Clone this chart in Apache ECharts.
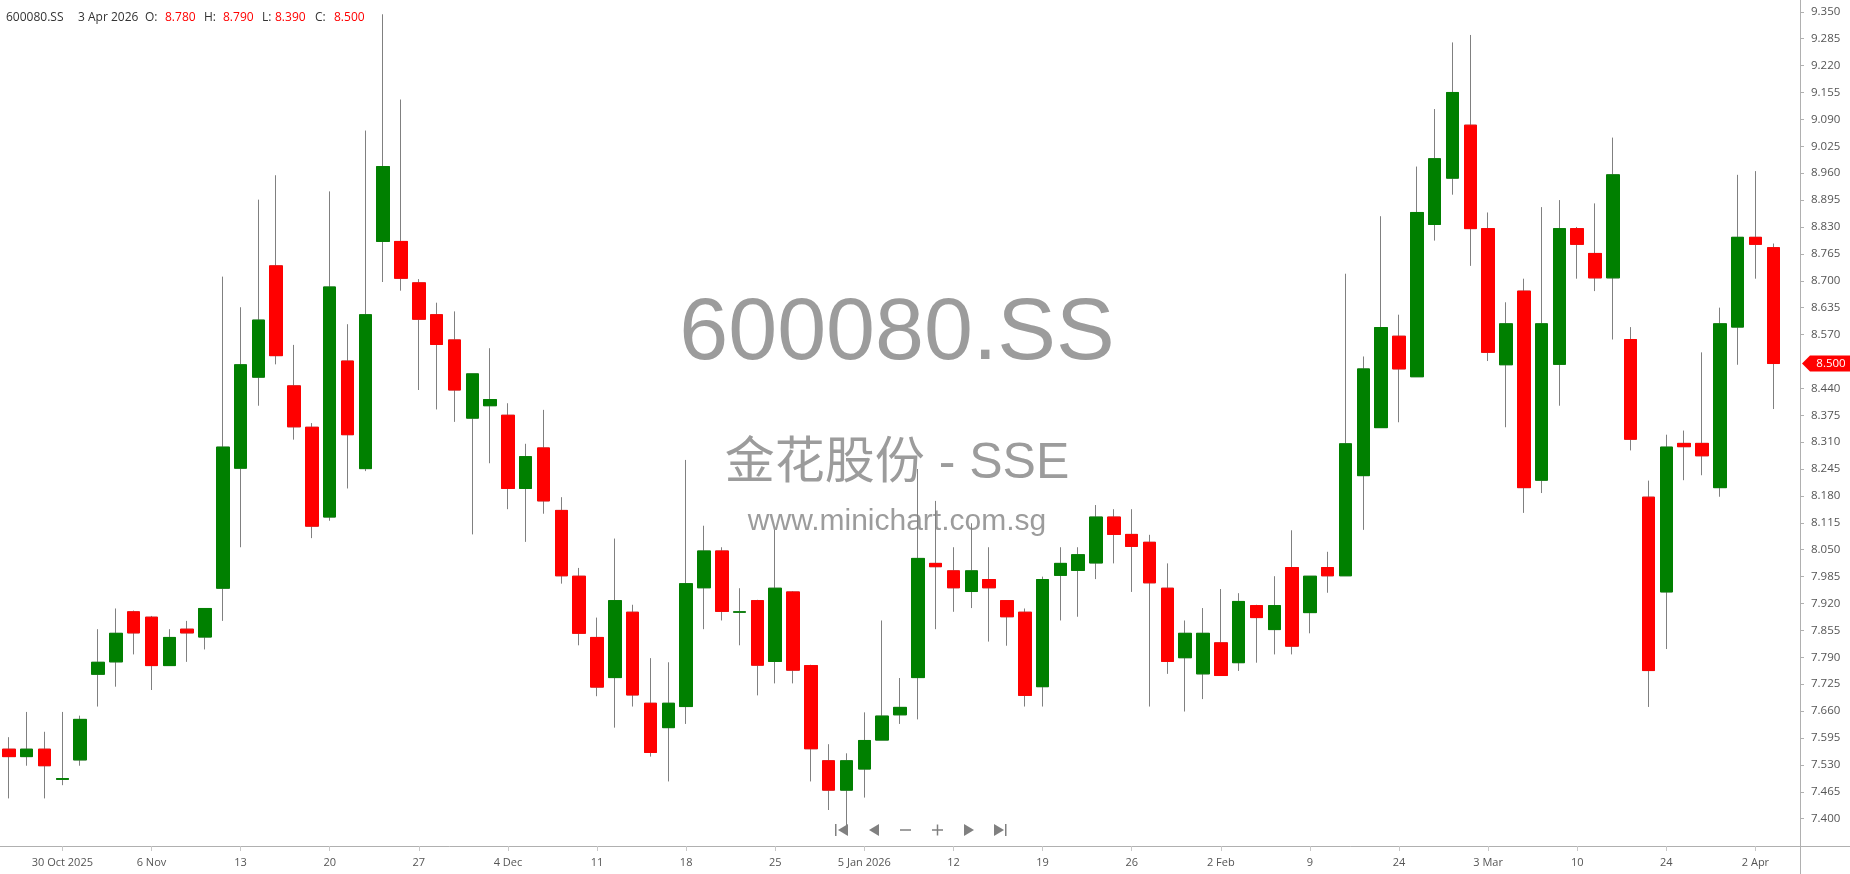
<!DOCTYPE html>
<html><head><meta charset="utf-8">
<script src="https://cdn.jsdelivr.net/npm/echarts@6/dist/echarts.min.js"></script>
<style>html,body{margin:0;padding:0;background:#fff;overflow:hidden}#c{width:1850px;height:874px}</style>
</head><body><div id="c"></div><script>
const SYMBOL = '600080.SS';
const NAME_LINE = '金花股份 - SSE';
const SITE = 'www.minichart.com.sg';
const LAST_DATE_TEXT = '3 Apr 2026';

const DATES = [
 '2025-10-27','2025-10-28','2025-10-29','2025-10-30','2025-10-31',
 '2025-11-03','2025-11-04','2025-11-05','2025-11-06','2025-11-07',
 '2025-11-10','2025-11-11','2025-11-12','2025-11-13','2025-11-14',
 '2025-11-17','2025-11-18','2025-11-19','2025-11-20','2025-11-21',
 '2025-11-24','2025-11-25','2025-11-26','2025-11-27','2025-11-28',
 '2025-12-01','2025-12-02','2025-12-03','2025-12-04','2025-12-05',
 '2025-12-08','2025-12-09','2025-12-10','2025-12-11','2025-12-12',
 '2025-12-15','2025-12-16','2025-12-17','2025-12-18','2025-12-19',
 '2025-12-22','2025-12-23','2025-12-24','2025-12-25','2025-12-26',
 '2025-12-29','2025-12-30','2025-12-31','2026-01-05','2026-01-06',
 '2026-01-07','2026-01-08','2026-01-09','2026-01-12','2026-01-13',
 '2026-01-14','2026-01-15','2026-01-16','2026-01-19','2026-01-20',
 '2026-01-21','2026-01-22','2026-01-23','2026-01-26','2026-01-27',
 '2026-01-28','2026-01-29','2026-01-30','2026-02-02','2026-02-03',
 '2026-02-04','2026-02-05','2026-02-06','2026-02-09','2026-02-10',
 '2026-02-11','2026-02-12','2026-02-13','2026-02-24','2026-02-25',
 '2026-02-26','2026-02-27','2026-03-02','2026-03-03','2026-03-04',
 '2026-03-05','2026-03-06','2026-03-09','2026-03-10','2026-03-11',
 '2026-03-12','2026-03-13','2026-03-23','2026-03-24','2026-03-25',
 '2026-03-26','2026-03-27','2026-03-31','2026-04-02','2026-04-03'
];

const OPEN = [
 7.568,7.550,7.568,7.495,7.542, 7.749,7.779,7.900,7.887,7.770,
 7.858,7.839,7.957,8.247,8.467, 8.736,8.446,8.346,8.129,8.506,
 8.246,8.795,8.795,8.695,8.618, 8.557,8.368,8.398,8.375,8.198,
 8.296,8.145,7.986,7.838,7.741, 7.899,7.679,7.620,7.671,7.958,
 8.047,7.899,7.927,7.780,7.948, 7.770,7.540,7.469,7.520,7.590,
 7.651,7.741,8.017,7.999,7.949, 7.978,7.927,7.899,7.719,7.988,
 8.000,8.018,8.129,8.087,8.068, 7.957,7.789,7.750,7.825,7.777,
 7.915,7.857,8.007,7.898,8.007, 7.987,8.229,8.345,8.566,8.468,
 8.836,8.948,9.076,8.826,8.497, 8.675,8.218,8.498,8.826,8.766,
 8.707,8.558,8.177,7.948,8.307, 8.307,8.200,8.588,8.805,8.780
];
const CLOSE = [
 7.550,7.568,7.528,7.497,7.640, 7.778,7.848,7.849,7.770,7.838,
 7.849,7.908,8.298,8.497,8.605, 8.519,8.347,8.107,8.685,8.328,
 8.618,8.976,8.706,8.607,8.546, 8.436,8.475,8.413,8.198,8.275,
 8.168,7.987,7.848,7.718,7.927, 7.699,7.560,7.679,7.968,8.047,
 7.901,7.900,7.771,7.957,7.759, 7.569,7.469,7.540,7.589,7.648,
 7.669,8.029,8.009,7.958,7.999, 7.958,7.888,7.698,7.978,8.017,
 8.038,8.129,8.087,8.058,7.970, 7.780,7.848,7.848,7.746,7.925,
 7.886,7.915,7.817,7.986,7.987, 8.306,8.487,8.587,8.487,8.865,
 8.995,9.155,8.826,8.527,8.596, 8.200,8.596,8.826,8.788,8.707,
 8.956,8.317,7.758,8.298,8.299, 8.277,8.596,8.805,8.788,8.500
];
const LOW = [
 7.449,7.528,7.449,7.481,7.528, 7.671,7.719,7.797,7.711,7.770,
 7.779,7.809,7.878,8.056,8.398, 8.498,8.316,8.078,8.120,8.198,
 8.240,8.697,8.676,8.436,8.389, 8.359,8.087,8.259,8.148,8.069,
 8.137,7.968,7.819,7.696,7.620, 7.671,7.550,7.490,7.629,7.858,
 7.879,7.819,7.698,7.727,7.727, 7.490,7.421,7.375,7.451,7.590,
 7.629,7.640,7.858,7.900,7.909, 7.828,7.818,7.671,7.671,7.879,
 7.888,7.979,8.017,7.948,7.671, 7.750,7.659,7.689,7.746,7.757,
 7.777,7.797,7.797,7.848,7.946, 7.987,8.098,8.345,8.358,8.468,
 8.797,8.908,8.736,8.506,8.346, 8.139,8.187,8.398,8.705,8.675,
 8.558,8.290,7.670,7.810,8.218, 8.230,8.178,8.497,8.705,8.390
];
const HIGH = [
 7.597,7.658,7.610,7.658,7.649, 7.858,7.908,7.903,7.890,7.858,
 7.878,7.908,8.710,8.636,8.896, 8.955,8.545,8.356,8.916,8.595,
 9.063,9.344,9.138,8.704,8.647, 8.626,8.475,8.537,8.404,8.306,
 8.388,8.177,8.006,7.886,8.077, 7.917,7.788,7.778,8.267,8.108,
 8.056,7.957,7.929,8.098,7.950, 7.772,7.580,7.558,7.657,7.879,
 7.740,8.245,8.168,8.056,8.114, 8.056,7.927,7.908,7.985,8.056,
 8.056,8.158,8.148,8.148,8.086, 8.017,7.879,7.909,7.955,7.945,
 7.917,7.986,8.097,7.986,8.045, 8.717,8.517,8.856,8.618,8.976,
 9.115,9.276,9.294,8.865,8.648, 8.705,8.878,8.895,8.830,8.887,
 9.046,8.588,8.217,8.328,8.338, 8.527,8.635,8.956,8.965,8.790
];

const X_LABEL_DATES = ['2025-10-30','2025-11-06','2025-11-13','2025-11-20','2025-11-27','2025-12-04','2025-12-11','2025-12-18','2025-12-25','2026-01-05','2026-01-12','2026-01-19','2026-01-26','2026-02-02','2026-02-09','2026-02-24','2026-03-03','2026-03-10','2026-03-24','2026-04-02'];
const X_LABEL_TEXT = ['30 Oct 2025','6 Nov','13','20','27','4 Dec','11','18','25','5 Jan 2026','12','19','26','2 Feb','9','24','3 Mar','10','24','2 Apr'];

const Y_TICKS = [9.350,9.285,9.220,9.155,9.090,9.025,8.960,8.895,8.830,8.765,8.700,8.635,8.570,
 8.440,8.375,8.310,8.245,8.180,8.115,8.050,7.985,7.920,7.855,7.790,7.725,7.660,7.595,7.530,7.465,7.400];
const Y_MIN = 7.334, Y_MAX = 9.3785;

const UP = '#008000', DOWN = '#ff0000', WICK = '#808080';
const FONT = '"Open Sans", "Noto Sans", sans-serif';

const n = DATES.length;
const wickData = DATES.map((d, i) => [OPEN[i], CLOSE[i], LOW[i], HIGH[i]]);
const bodyData = DATES.map((d, i) => [OPEN[i], CLOSE[i], Math.min(OPEN[i], CLOSE[i]), Math.max(OPEN[i], CLOSE[i])]);
const labelIdx = {};
X_LABEL_DATES.forEach((d, k) => { labelIdx[DATES.indexOf(d)] = X_LABEL_TEXT[k]; });
const showIdx = (i) => labelIdx[i] !== undefined;

const last = n - 1;
const fmt = v => v.toFixed(3);

const chart = echarts.init(document.getElementById('c'), null, {renderer: 'canvas'});
const option = {
  animation: false,
  backgroundColor: '#ffffff',
  grid: {left: 0, right: 50, top: 0, bottom: 28, containLabel: false},
  xAxis: {
    type: 'category', data: DATES, boundaryGap: true, max: n,
    axisLine: {show: true, lineStyle: {color: '#b0b0b0', width: 1}},
    axisTick: {show: true, alignWithLabel: true, interval: (i) => showIdx(i), length: 5, lineStyle: {color: '#c8c8c8'}},
    axisLabel: {interval: (i) => showIdx(i), formatter: (v, i) => labelIdx[i] || '', color: '#555', fontFamily: FONT, fontSize: 11, margin: 11},
    splitLine: {show: false}
  },
  yAxis: {
    type: 'value', position: 'right', min: Y_MIN, max: Y_MAX, scale: true,
    axisLine: {show: true, lineStyle: {color: '#b0b0b0', width: 1}},
    axisTick: {show: true, inside: false, length: 4, customValues: Y_TICKS, lineStyle: {color: '#b0b0b0'}},
    axisLabel: {customValues: Y_TICKS, formatter: fmt, color: '#555', fontFamily: FONT, fontSize: 11.5, margin: 11},
    splitLine: {show: false}
  },
  series: [
    {type: 'candlestick', name: 'wick', data: wickData, barWidth: 13, z: 3,
     itemStyle: {color: WICK, color0: WICK, borderColor: WICK, borderColor0: WICK, borderColorDoji: WICK, borderWidth: 1},
     emphasis: {disabled: true}, silent: true},
    {type: 'candlestick', name: 'body', data: bodyData, barWidth: 13, z: 4,
     itemStyle: {color: UP, color0: DOWN, borderColor: UP, borderColor0: DOWN, borderColorDoji: UP, borderWidth: 1},
     emphasis: {disabled: true}, silent: true}
  ]
};
chart.setOption(option);

const yLast = chart.convertToPixel({yAxisIndex: 0}, CLOSE[last]);
const wmColor = '#9c9c9c';
const cx = 897;
const navY = 830, navC = '#808080';
const tri = (x, dir) => dir < 0
  ? [[x - 5, navY], [x + 5, navY - 6], [x + 5, navY + 6]]
  : [[x + 5, navY], [x - 5, navY - 6], [x - 5, navY + 6]];
const hdr = (x, text, fill) => ({type: 'text', z: 10, style: {x: x, y: 18, text: text, fill: fill, font: '12px ' + FONT, textVerticalAlign: 'middle'}});
const graphics = [
  {type: 'text', z: 0, style: {x: cx, y: 335, text: SYMBOL, fill: wmColor, font: '88px "Liberation Sans", Arial, sans-serif', textAlign: 'center', textVerticalAlign: 'middle'}},
  {type: 'text', z: 0, style: {x: cx, y: 464, text: NAME_LINE, fill: wmColor, font: '50px "Liberation Sans", "Noto Sans CJK SC", sans-serif', textAlign: 'center', textVerticalAlign: 'middle'}},
  {type: 'text', z: 0, style: {x: cx, y: 522, text: SITE, fill: wmColor, font: '30px "Liberation Sans", Arial, sans-serif', textAlign: 'center', textVerticalAlign: 'middle'}},
  hdr(6, SYMBOL, '#333'),
  hdr(78, LAST_DATE_TEXT, '#333'),
  hdr(145, 'O:', '#333'),
  hdr(165, fmt(OPEN[last]), '#ff0000'),
  hdr(204, 'H:', '#333'),
  hdr(223, fmt(HIGH[last]), '#ff0000'),
  hdr(262, 'L:', '#333'),
  hdr(275, fmt(LOW[last]), '#ff0000'),
  hdr(315, 'C:', '#333'),
  hdr(334, fmt(CLOSE[last]), '#ff0000'),
  // axis line extensions
  {type: 'line', z: 5, shape: {x1: 1800, y1: 846.5, x2: 1850, y2: 846.5}, style: {stroke: '#b0b0b0', lineWidth: 1}},
  {type: 'line', z: 5, shape: {x1: 1800.5, y1: 846, x2: 1800.5, y2: 874}, style: {stroke: '#b0b0b0', lineWidth: 1}},
  // last price marker
  {type: 'polygon', z: 20, shape: {points: [[1802, yLast], [1810, yLast - 8], [1850, yLast - 8], [1850, yLast + 8], [1810, yLast + 8]]}, style: {fill: '#ff0000'}},
  {type: 'text', z: 21, style: {x: 1831, y: yLast, text: fmt(CLOSE[last]), fill: '#ffffff', font: '11.5px ' + FONT, textAlign: 'center', textVerticalAlign: 'middle'}},
  // navigation buttons
  {type: 'rect', z: 10, shape: {x: 835, y: navY - 6, width: 1.5, height: 12}, style: {fill: navC}},
  {type: 'polygon', z: 10, shape: {points: tri(843, -1)}, style: {fill: navC}},
  {type: 'polygon', z: 10, shape: {points: tri(874, -1)}, style: {fill: navC}},
  {type: 'rect', z: 10, shape: {x: 900, y: navY - 0.75, width: 11, height: 1.5}, style: {fill: navC}},
  {type: 'rect', z: 10, shape: {x: 932, y: navY - 0.75, width: 11, height: 1.5}, style: {fill: navC}},
  {type: 'rect', z: 10, shape: {x: 936.75, y: navY - 5.5, width: 1.5, height: 11}, style: {fill: navC}},
  {type: 'polygon', z: 10, shape: {points: tri(969, 1)}, style: {fill: navC}},
  {type: 'polygon', z: 10, shape: {points: tri(999, 1)}, style: {fill: navC}},
  {type: 'rect', z: 10, shape: {x: 1005, y: navY - 6, width: 1.5, height: 12}, style: {fill: navC}}
];
chart.setOption({graphic: graphics});
</script></body></html>
